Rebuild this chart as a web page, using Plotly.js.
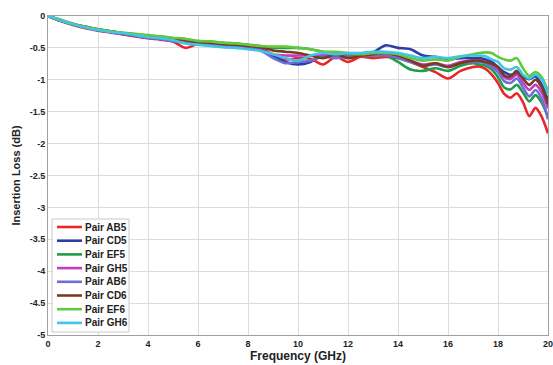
<!DOCTYPE html>
<html>
<head>
<meta charset="utf-8">
<script src="https://cdn.plot.ly/plotly-3.0.1.min.js"></script>
<style>html,body{margin:0;padding:0;background:#fff;}#chart{width:553px;height:365px;}</style>
</head>
<body>
<div id="chart"></div>
<script>
// Frequency (GHz)
const freq = [0,0.5,1,1.5,2,2.5,3,3.5,4,4.5,5,5.5,6,6.5,7,7.5,8,8.5,9,9.5,10,10.5,11,11.5,12,12.5,13,13.5,14,14.5,15,15.5,16,16.5,
  17,17.25,17.5,17.75,18,18.25,18.5,18.75,19,19.25,19.5,19.75,20];

// Insertion loss (dB) per pair
const pairAB5 = [0,-0.08,-0.14,-0.19,-0.23,-0.26,-0.29,-0.32,-0.35,-0.37,-0.40,-0.50,-0.44,-0.45,-0.47,-0.48,-0.50,-0.52,
  -0.60,-0.68,-0.66,-0.67,-0.76,-0.64,-0.72,-0.64,-0.66,-0.64,-0.66,-0.72,-0.80,-0.88,-0.98,-0.86,
  -0.80,-0.79,-0.83,-0.92,-1.05,-1.22,-1.28,-1.21,-1.35,-1.57,-1.44,-1.58,-1.84];
const pairCD5 = [0,-0.07,-0.13,-0.18,-0.22,-0.25,-0.28,-0.31,-0.34,-0.36,-0.39,-0.41,-0.43,-0.45,-0.47,-0.48,-0.50,-0.52,
  -0.62,-0.72,-0.76,-0.72,-0.60,-0.62,-0.60,-0.60,-0.57,-0.46,-0.50,-0.52,-0.62,-0.64,-0.68,-0.66,
  -0.66,-0.66,-0.68,-0.72,-0.80,-0.88,-0.92,-0.90,-0.95,-0.99,-0.95,-1.08,-1.32];
const pairEF5 = [0,-0.06,-0.12,-0.17,-0.21,-0.24,-0.27,-0.29,-0.31,-0.32,-0.35,-0.36,-0.40,-0.40,-0.42,-0.43,-0.45,-0.47,
  -0.50,-0.50,-0.50,-0.52,-0.56,-0.58,-0.60,-0.62,-0.62,-0.62,-0.72,-0.84,-0.86,-0.82,-0.86,-0.78,
  -0.74,-0.76,-0.78,-0.84,-0.96,-1.12,-1.15,-1.08,-1.20,-1.34,-1.24,-1.36,-1.58];
const pairGH5 = [0,-0.07,-0.13,-0.18,-0.22,-0.25,-0.28,-0.31,-0.34,-0.36,-0.39,-0.41,-0.43,-0.45,-0.47,-0.48,-0.50,-0.53,
  -0.60,-0.62,-0.62,-0.62,-0.62,-0.62,-0.64,-0.62,-0.60,-0.62,-0.64,-0.70,-0.76,-0.74,-0.78,-0.72,
  -0.70,-0.70,-0.72,-0.77,-0.84,-0.96,-0.99,-0.92,-1.05,-1.16,-1.08,-1.20,-1.45];
const pairAB6 = [0,-0.07,-0.13,-0.18,-0.22,-0.25,-0.28,-0.31,-0.34,-0.36,-0.39,-0.42,-0.44,-0.46,-0.48,-0.49,-0.51,-0.54,
  -0.66,-0.74,-0.72,-0.70,-0.64,-0.66,-0.64,-0.62,-0.62,-0.60,-0.66,-0.72,-0.78,-0.76,-0.80,-0.74,
  -0.72,-0.72,-0.74,-0.80,-0.88,-1.02,-1.05,-0.98,-1.12,-1.26,-1.16,-1.30,-1.62];
const pairCD6 = [0,-0.07,-0.13,-0.17,-0.21,-0.24,-0.27,-0.29,-0.32,-0.33,-0.36,-0.38,-0.41,-0.42,-0.44,-0.45,-0.47,-0.49,
  -0.54,-0.56,-0.58,-0.62,-0.66,-0.60,-0.66,-0.62,-0.60,-0.58,-0.62,-0.70,-0.78,-0.74,-0.80,-0.74,
  -0.70,-0.70,-0.72,-0.75,-0.80,-0.93,-0.95,-0.86,-0.98,-1.08,-1.00,-1.12,-1.38];
const pairEF6 = [0,-0.06,-0.12,-0.17,-0.21,-0.24,-0.26,-0.28,-0.30,-0.32,-0.34,-0.36,-0.39,-0.40,-0.42,-0.43,-0.45,-0.47,
  -0.48,-0.48,-0.50,-0.52,-0.56,-0.56,-0.58,-0.60,-0.58,-0.58,-0.60,-0.66,-0.70,-0.68,-0.70,-0.64,
  -0.60,-0.58,-0.57,-0.58,-0.64,-0.68,-0.70,-0.66,-0.82,-0.94,-0.88,-0.96,-1.18];
const pairGH6 = [0,-0.07,-0.13,-0.18,-0.22,-0.25,-0.27,-0.30,-0.33,-0.35,-0.38,-0.43,-0.45,-0.47,-0.49,-0.50,-0.52,-0.55,
  -0.60,-0.66,-0.70,-0.62,-0.58,-0.60,-0.58,-0.58,-0.56,-0.56,-0.58,-0.62,-0.66,-0.64,-0.66,-0.63,
  -0.62,-0.62,-0.63,-0.68,-0.72,-0.82,-0.84,-0.80,-0.92,-0.98,-0.92,-1.00,-1.22];

const seriesNames = ["Pair AB5","Pair CD5","Pair EF5","Pair GH5","Pair AB6","Pair CD6","Pair EF6","Pair GH6"];
const seriesValues = [pairAB5,pairCD5,pairEF5,pairGH5,pairAB6,pairCD6,pairEF6,pairGH6];
const seriesColors = ["#e8262b","#2b3da6","#1f9e48","#c23cc4","#6c6fd6","#7b3a1e","#62c83c","#3ec6e2"];

const xTicks = [0,2,4,6,8,10,12,14,16,18,20];
const yTicks = [0,-0.5,-1,-1.5,-2,-2.5,-3,-3.5,-4,-4.5,-5];
const yTickText = ["0","-0.5","-1","-1.5","-2","-2.5","-3","-3.5","-4","-4.5","-5"];

const font = {family: "Liberation Sans, Arial, sans-serif", color: "#222", weight: "bold"};

const traces = seriesNames.map((n, i) => ({
  x: freq, y: seriesValues[i], name: n, type: "scatter", mode: "lines",
  line: {color: seriesColors[i], width: 2.6, shape: "spline", smoothing: 0.8}
}));

// Custom compact legend (paper coordinates, inside the plot area)
const W = 500, H = 319; // plot area size in px
const px = v => v / W, py = v => v / H;
const legBox = {x0: px(4), x1: px(81), y0: py(3), y1: py(116)};
const shapes = [{type: "rect", xref: "paper", yref: "paper",
  x0: legBox.x0, x1: legBox.x1, y0: legBox.y0, y1: legBox.y1,
  fillcolor: "#fff", line: {color: "#c8c8c8", width: 1}, layer: "above"}];
const annotations = [];
seriesNames.forEach((n, i) => {
  const yc = py(108 - i * 13.7);
  shapes.push({type: "line", xref: "paper", yref: "paper", x0: px(9), x1: px(34), y0: yc, y1: yc,
    line: {color: seriesColors[i], width: 2.6}, layer: "above"});
  annotations.push({xref: "paper", yref: "paper", x: px(35), y: yc, xanchor: "left", yanchor: "middle",
    text: n, showarrow: false, font: Object.assign({size: 10}, font)});
});

const layout = {
  width: 553, height: 365,
  margin: {l: 48, r: 5, t: 16, b: 30},
  paper_bgcolor: "#fff", plot_bgcolor: "#fff",
  showlegend: false,
  font: Object.assign({size: 9}, font),
  shapes: shapes, annotations: annotations,
  xaxis: {
    range: [0, 20], tickvals: xTicks, ticktext: xTicks.map(String),
    showgrid: true, gridcolor: "#dcdcdc", gridwidth: 1,
    zeroline: false, showline: true, linecolor: "#a0a0a0", mirror: true,
    ticks: "", ticklabeloverflow: "allow", tickfont: Object.assign({size: 9}, font),
    title: {text: "Frequency (GHz)", font: Object.assign({size: 12}, font), standoff: 2}
  },
  yaxis: {
    range: [-5, 0], tickvals: yTicks, ticktext: yTickText,
    showgrid: true, gridcolor: "#dcdcdc", gridwidth: 1,
    zeroline: false, showline: true, linecolor: "#a0a0a0", mirror: true,
    ticks: "", ticklabeloverflow: "allow", tickfont: Object.assign({size: 9}, font),
    title: {text: "Insertion Loss (dB)", font: Object.assign({size: 11}, font), standoff: 6}
  }
};
Plotly.newPlot("chart", traces, layout, {displayModeBar: false, staticPlot: true});
</script>
</body>
</html>
